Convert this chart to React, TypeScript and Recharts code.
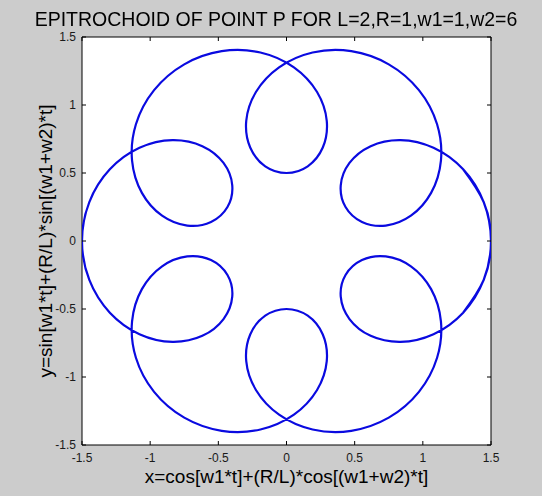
import React from 'react';
import { LineChart, Line, XAxis, YAxis, CartesianGrid, ReferenceArea } from 'recharts';

// Points of the curve (t stepping 3.75 deg), with a small overlap at both ends
const xValues: number[] = [
  1.2958, 1.4463,
  1.5, 1.4463, 1.2958, 1.0783, 0.8365, 0.6173, 0.4619, 0.3979, 0.433, 0.5537, 0.7281, 0.9126,
  1.0607, 1.1328, 1.1045, 0.9713, 0.75, 0.475, 0.1913, -0.0545, -0.2242, -0.2953, -0.2662, -0.1558,
  0, 0.1558, 0.2662, 0.2953, 0.2242, 0.0545, -0.1913, -0.475, -0.75, -0.9713, -1.1045, -1.1328,
  -1.0607, -0.9126, -0.7281, -0.5537, -0.433, -0.3979, -0.4619, -0.6173, -0.8365, -1.0783, -1.2958, -1.4463,
  -1.5, -1.4463, -1.2958, -1.0783, -0.8365, -0.6173, -0.4619, -0.3979, -0.433, -0.5537, -0.7281, -0.9126,
  -1.0607, -1.1328, -1.1045, -0.9713, -0.75, -0.475, -0.1913, 0.0545, 0.2242, 0.2953, 0.2662, 0.1558,
  0, -0.1558, -0.2662, -0.2953, -0.2242, -0.0545, 0.1913, 0.475, 0.75, 0.9713, 1.1045, 1.1328,
  1.0607, 0.9126, 0.7281, 0.5537, 0.433, 0.3979, 0.4619, 0.6173, 0.8365, 1.0783, 1.2958, 1.4463,
  1.5, 1.4463, 1.2958,
];
const yValues: number[] = [
  -0.5272, -0.2865,
  0, 0.2865, 0.5272, 0.6855, 0.7418, 0.6974, 0.574, 0.4096, 0.25, 0.1398, 0.113, 0.1859,
  0.3536, 0.5911, 0.8586, 1.1093, 1.299, 1.3958, 1.3858, 1.2766, 1.0953, 0.8832, 0.6871, 0.5494,
  0.5, 0.5494, 0.6871, 0.8832, 1.0953, 1.2766, 1.3858, 1.3958, 1.299, 1.1093, 0.8586, 0.5911,
  0.3536, 0.1859, 0.113, 0.1398, 0.25, 0.4096, 0.574, 0.6974, 0.7418, 0.6855, 0.5272, 0.2865,
  0, -0.2865, -0.5272, -0.6855, -0.7418, -0.6974, -0.574, -0.4096, -0.25, -0.1398, -0.113, -0.1859,
  -0.3536, -0.5911, -0.8586, -1.1093, -1.299, -1.3958, -1.3858, -1.2766, -1.0953, -0.8832, -0.6871, -0.5494,
  -0.5, -0.5494, -0.6871, -0.8832, -1.0953, -1.2766, -1.3858, -1.3958, -1.299, -1.1093, -0.8586, -0.5911,
  -0.3536, -0.1859, -0.113, -0.1398, -0.25, -0.4096, -0.574, -0.6974, -0.7418, -0.6855, -0.5272, -0.2865,
  0, 0.2865, 0.5272,
];
const xTicks: number[] = [-1.5, -1, -0.5, 0, 0.5, 1, 1.5];
const yTicks: number[] = [-1.5, -1, -0.5, 0, 0.5, 1, 1.5];
const xTickLabels: string[] = ['-1.5', '-1', '-0.5', '0', '0.5', '1', '1.5'];
const yTickLabels: string[] = ['-1.5', '-1', '-0.5', '0', '0.5', '1', '1.5'];

const titleText = 'EPITROCHOID OF POINT P FOR L=2,R=1,w1=1,w2=6';
const xLabelText = 'x=cos[w1*t]+(R/L)*cos[(w1+w2)*t]';
const yLabelText = 'y=sin[w1*t]+(R/L)*sin[(w1+w2)*t]';

const data = xValues.map((x, i) => ({ x, y: yValues[i] }));

const W = 542;
const H = 496;
const PLOT_LEFT = 82;
const PLOT_RIGHT = 491;
const PLOT_TOP = 37;
const PLOT_BOTTOM = 445;
const TICK_LEN = 4;
const FONT = 'Arial, "Liberation Sans", sans-serif';

const XTick = (props: any) => {
  const { x, payload, index } = props;
  const label = xTickLabels[index] ?? String(payload.value);
  return (
    <g>
      <line x1={x} x2={x} y1={PLOT_BOTTOM} y2={PLOT_BOTTOM - TICK_LEN} stroke="#000" />
      <line x1={x} x2={x} y1={PLOT_TOP} y2={PLOT_TOP + TICK_LEN} stroke="#000" />
      <text x={x} y={PLOT_BOTTOM + 17} textAnchor="middle" fontSize={12} fontFamily={FONT} fill="#1a1a1a">
        {label}
      </text>
    </g>
  );
};

const YTick = (props: any) => {
  const { y, payload, index } = props;
  const label = yTickLabels[index] ?? String(payload.value);
  return (
    <g>
      <line x1={PLOT_LEFT} x2={PLOT_LEFT + TICK_LEN} y1={y} y2={y} stroke="#000" />
      <line x1={PLOT_RIGHT} x2={PLOT_RIGHT - TICK_LEN} y1={y} y2={y} stroke="#000" />
      <text x={PLOT_LEFT - 6} y={y} dy={4} textAnchor="end" fontSize={12} fontFamily={FONT} fill="#1a1a1a">
        {label}
      </text>
    </g>
  );
};

export default function App() {
  return (
    <div style={{ position: 'fixed', left: 0, top: 0, width: W, height: H, background: '#cccccc' }}>
      <LineChart
        width={W}
        height={H}
        data={data}
        margin={{ top: PLOT_TOP, right: W - PLOT_RIGHT, bottom: 0, left: 0 }}
      >
        <CartesianGrid horizontal={false} vertical={false} fill="#ffffff" />
        <XAxis
          type="number"
          dataKey="x"
          domain={[-1.5, 1.5]}
          ticks={xTicks}
          allowDataOverflow
          axisLine={false}
          tickLine={false}
          tick={<XTick />}
          height={H - PLOT_BOTTOM}
          interval={0}
        />
        <YAxis
          type="number"
          dataKey="y"
          domain={[-1.5, 1.5]}
          ticks={yTicks}
          allowDataOverflow
          axisLine={false}
          tickLine={false}
          tick={<YTick />}
          width={PLOT_LEFT}
          interval={0}
        />
        <ReferenceArea x1={-1.5} x2={1.5} y1={-1.5} y2={1.5} fill="none" fillOpacity={0} stroke="#000" strokeWidth={1} />
        <Line
          type="natural"
          dataKey="y"
          stroke="#0a0ae0"
          strokeWidth={2.2}
          dot={false}
          activeDot={false}
          isAnimationActive={false}
        />
      </LineChart>
      <div
        style={{
          position: 'absolute', left: 0, width: 552, top: 7, textAlign: 'center',
          fontFamily: FONT, fontSize: 19.5, color: '#000', lineHeight: '24px', whiteSpace: 'nowrap',
        }}
      >
        {titleText}
      </div>
      <div
        style={{
          position: 'absolute', left: PLOT_LEFT, width: PLOT_RIGHT - PLOT_LEFT, top: 466, textAlign: 'center',
          fontFamily: FONT, fontSize: 19, color: '#000', lineHeight: '22px', whiteSpace: 'nowrap',
        }}
      >
        {xLabelText}
      </div>
      <div
        style={{
          position: 'absolute', left: 46 - 200, top: (PLOT_TOP + PLOT_BOTTOM) / 2 - 11, width: 400, textAlign: 'center',
          fontFamily: FONT, fontSize: 19, color: '#000', lineHeight: '22px', whiteSpace: 'nowrap',
          transform: 'rotate(-90deg)', transformOrigin: '50% 50%',
        }}
      >
        {yLabelText}
      </div>
    </div>
  );
}
